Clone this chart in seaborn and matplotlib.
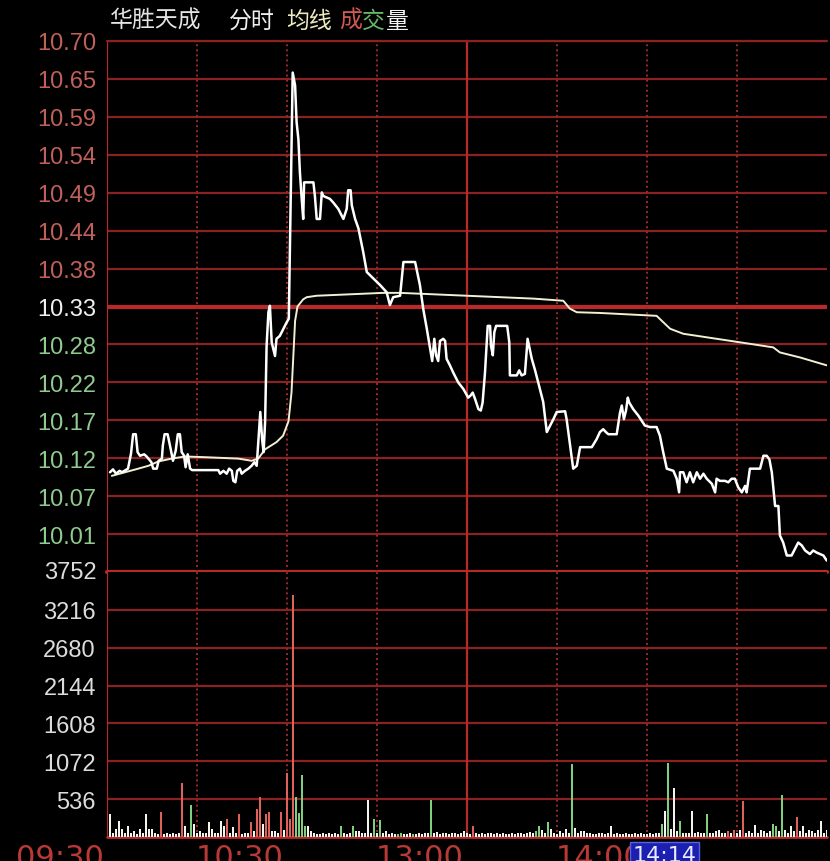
import matplotlib
matplotlib.use('Agg')
from matplotlib import pyplot as plt, transforms
import numpy as np
import seaborn as sns

# intraday price (minute from 09:30, price)
price_minutes = [1.0, 2.0, 3.0, 4.2, 5.0, 7.0, 8.0, 8.7, 9.6, 10.2, 11.0, 12.4, 13.2, 14.8, 15.4, 16.6, 17.2,
                 18.3, 18.6, 19.2, 20.2, 21.0, 22.0, 22.9, 23.6, 24.3, 24.9, 25.7, 26.2, 26.9, 27.7, 28.4,
                 37.1, 37.7, 38.8, 39.9, 40.7, 41.6, 42.1, 42.8, 43.4, 44.3, 44.9, 46.0, 47.1, 48.2, 49.1,
                 49.9, 50.5, 51.1, 51.7, 52.2, 52.7, 53.2, 53.8, 54.3, 54.9, 56.0, 56.5, 57.6, 59.9, 60.6,
                 61.9, 62.7, 63.2, 63.8, 64.3, 64.9, 65.4, 65.7, 68.8, 69.3, 69.9, 71.0, 71.6, 72.1, 74.3,
                 75.4, 77.1, 78.8, 79.9, 80.4, 81.2, 81.6, 82.7, 83.8, 85.4, 86.6, 88.8, 91.0, 93.2, 94.3,
                 95.4, 97.7, 98.8, 102.7, 104.3, 105.4, 106.6, 107.7, 108.4, 109.1, 109.7, 110.4, 111.0,
                 112.1, 112.7, 113.2, 114.3, 115.4, 117.1, 118.8, 120.4, 121.2, 121.9, 122.7, 123.8, 124.6,
                 125.2, 126.0, 126.6, 126.9, 127.7, 128.0, 128.6, 129.1, 129.7, 133.4, 134.1, 134.3, 136.6,
                 137.4, 138.2, 139.3, 139.7, 140.2, 140.8, 141.6, 142.7, 144.3, 145.4, 146.6, 147.7, 148.8,
                 149.9, 152.7, 153.2, 154.1, 155.4, 156.6, 157.7, 161.6, 163.2, 164.3, 165.4, 166.3, 167.1,
                 169.9, 171.0, 171.6, 172.3, 173.0, 173.6, 174.1, 175.4, 177.1, 179.3, 181.0, 183.2, 184.3,
                 185.4, 186.6, 188.8, 189.9, 190.7, 191.0, 192.1, 193.2, 194.3, 195.4, 196.6, 197.7, 198.8,
                 199.9, 201.6, 202.7, 203.2, 204.3, 206.0, 207.1, 208.2, 209.3, 210.4, 211.6, 212.7, 213.2,
                 214.3, 217.7, 218.8, 219.9, 220.8, 221.6, 222.7, 223.8, 224.3, 225.4, 226.6, 228.2, 229.3,
                 230.4, 231.6, 232.7, 234.3, 235.4, 236.6, 237.7, 238.8, 239.9]
price_values = [10.099, 10.103, 10.097, 10.101, 10.099, 10.104, 10.125, 10.152, 10.152, 10.127, 10.122, 10.124,
                10.121, 10.113, 10.104, 10.104, 10.115, 10.118, 10.136, 10.152, 10.152, 10.136, 10.115, 10.129,
                10.152, 10.152, 10.127, 10.122, 10.106, 10.124, 10.104, 10.102,
                10.102, 10.097, 10.101, 10.097, 10.104, 10.101, 10.087, 10.085, 10.101, 10.104, 10.097, 10.101,
                10.104, 10.108, 10.113,
                10.108, 10.145, 10.183, 10.145, 10.127, 10.169, 10.275, 10.322, 10.331, 10.280, 10.261, 10.285,
                10.289, 10.308, 10.313,
                10.656, 10.638, 10.587, 10.563, 10.517, 10.480, 10.452, 10.503, 10.503, 10.484, 10.452, 10.452,
                10.489, 10.484, 10.480, 10.475, 10.466, 10.452, 10.466, 10.492, 10.492, 10.471, 10.452, 10.439,
                10.406, 10.378, 10.369, 10.360, 10.350, 10.332, 10.343, 10.345, 10.392, 10.392, 10.360, 10.327,
                10.299, 10.271, 10.254, 10.285, 10.262, 10.254, 10.282, 10.285, 10.282, 10.257, 10.248, 10.238,
                10.224, 10.215, 10.203, 10.206, 10.210, 10.201, 10.187, 10.185, 10.196, 10.238, 10.280, 10.303,
                10.303, 10.275, 10.262, 10.294, 10.303, 10.303, 10.280, 10.234, 10.234, 10.241, 10.234, 10.236,
                10.257, 10.285, 10.273, 10.257, 10.241, 10.215, 10.197, 10.155, 10.164, 10.173, 10.183, 10.184,
                10.173, 10.145, 10.104, 10.108, 10.134, 10.134, 10.145, 10.155, 10.159, 10.155, 10.152, 10.152,
                10.182, 10.192, 10.173, 10.185, 10.203, 10.196, 10.187, 10.178, 10.164, 10.162, 10.162, 10.150,
                10.127, 10.104, 10.101, 10.090, 10.071, 10.099, 10.099, 10.085, 10.099, 10.085, 10.099, 10.090,
                10.097, 10.090, 10.083, 10.071, 10.090, 10.087, 10.087, 10.085, 10.090, 10.090, 10.078, 10.071,
                10.080, 10.071, 10.104, 10.104, 10.122, 10.122, 10.117, 10.099, 10.052, 10.052, 10.011, 10.001,
                9.983, 9.983, 9.992, 10.001, 9.997, 9.990, 9.985, 9.990, 9.987, 9.985, 9.983, 9.976]

# average price line
avg_minutes = [1.6, 6.0, 10.4, 13.8, 17.1, 21.5, 26.0, 32.7, 43.8, 48.2, 50.4, 52.7, 56.5, 58.7, 60.5, 61.5,
               62.1, 62.7, 63.5, 65.4, 66.6, 69.9, 81.0, 92.1, 97.7, 119.9, 142.1, 152.1, 154.3, 156.6, 164.3,
               183.2, 187.7, 192.1, 203.2, 214.3, 222.1, 224.3, 231.0, 239.9]
avg_values = [10.094, 10.099, 10.104, 10.108, 10.114, 10.118, 10.121, 10.120, 10.118, 10.115, 10.118, 10.131,
              10.141, 10.150, 10.170, 10.210, 10.260, 10.310, 10.330, 10.340, 10.343, 10.345, 10.347, 10.349,
              10.349, 10.345, 10.341, 10.338, 10.327, 10.322, 10.321, 10.317, 10.299, 10.292, 10.285, 10.278,
              10.273, 10.266, 10.259, 10.248]

# volume per minute (minute 1..240) and bar colour: r up, g down, w flat
volume_values = [
    320, 60, 110, 230, 120, 60, 160, 50, 90, 40, 110, 60, 320, 120, 110, 60, 40, 350, 40, 50,
    40, 50, 40, 60, 770, 150, 60, 460, 180, 60, 80, 50, 60, 210, 120, 50, 60, 230, 150, 250,
    60, 140, 60, 320, 40, 60, 50, 210, 80, 400, 560, 180, 330, 350, 80, 80, 60, 350, 100, 910,
    250, 3430, 570, 340, 880, 150, 160, 80, 50, 40, 40, 50, 40, 60, 40, 50, 40, 160, 60, 40,
    50, 160, 80, 90, 50, 60, 530, 60, 250, 50, 240, 50, 80, 40, 60, 40, 40, 50, 40, 40,
    50, 40, 40, 60, 40, 60, 50, 530, 60, 70, 40, 50, 60, 40, 50, 50, 40, 60, 90, 60,
    40, 160, 60, 40, 50, 40, 50, 60, 40, 50, 40, 50, 40, 40, 50, 40, 60, 50, 40, 60,
    70, 60, 80, 160, 100, 60, 210, 120, 60, 40, 80, 60, 120, 60, 1030, 130, 60, 80, 80, 60,
    60, 40, 40, 50, 60, 40, 50, 160, 40, 50, 40, 40, 50, 40, 40, 50, 40, 50, 40, 40,
    50, 40, 60, 50, 180, 370, 1050, 120, 690, 80, 230, 60, 50, 60, 370, 60, 70, 50, 60, 320,
    50, 60, 80, 100, 60, 50, 80, 60, 100, 60, 100, 510, 60, 80, 60, 170, 60, 100, 80, 60,
    80, 190, 150, 80, 600, 100, 60, 160, 80, 280, 80, 160, 60, 100, 80, 60, 100, 230, 60, 100]
volume_colors = ("wwwwwwwwwwwwwwwwwrww" "wwwwrwwgwwwwwwwwwwwr" "wwwrwwwrwrrwrrwwwrwr"
                 "rrggggwwwwwwwwwwwgww" "wgwwwwwwgwgwwwwwggww" "wgwwwwwgwwwwwwwwwwww"
                 "wrwwwwwwwwwwwwwwwwww" "wwggwwgwwwwwwwgwwwww" "wwwwwwwwwwwwwwwwwwww"
                 "wwwwgwgwwwgwwwwwwwwg" "wwwwwwrwrwwrwwwwwwww" "wggwgwwwwrwwwwwwwwww")
volume_minutes = np.arange(1, len(volume_values) + 1)

prev_close = 10.33
max_swing = 0.37
volume_step = 536
time_ticks = [0, 60, 120, 180]
time_labels = ["09:30", "10:30", "13:00", "14:00"]
cursor_label = "14:14"

sns.set_theme(style="dark", rc={"axes.facecolor": "black", "figure.facecolor": "black"})
plt.rcParams['font.family'] = ['Liberation Sans', 'Noto Sans CJK SC', 'DejaVu Sans']

W, H = 830, 862
fig = plt.figure(figsize=(W / 100, H / 100), dpi=100, facecolor='black')
ax_p = fig.add_axes([107 / W, (H - 573) / H, 720 / W, 531 / H])
ax_v = fig.add_axes([107 / W, (H - 838) / H, 720 / W, 265 / H])

grid_red = '#8a2222'
bright_red = '#b82a2a'
up_col, flat_col, down_col = '#c0605a', '#f0f0f0', '#8fca8f'

# price panel
step = max_swing / 7
price_ticks = [prev_close + k * step for k in range(7, -7, -1)]
ax_p.set_ylim(prev_close - max_swing, prev_close + max_swing)
ax_p.set_yticks(price_ticks)
ax_p.set_yticklabels(['%.2f' % v for v in price_ticks])
for lab, v in zip(ax_p.get_yticklabels(), price_ticks):
    if abs(v - prev_close) < 1e-6:
        lab.set_color(flat_col)
    elif v > prev_close:
        lab.set_color(up_col)
    else:
        lab.set_color(down_col)
for v in price_ticks:
    if abs(v - prev_close) < 1e-6:
        ax_p.axhline(v, color=bright_red, lw=3.0, zorder=1)
    else:
        ax_p.axhline(v, color=grid_red, lw=1.6, zorder=1)
ax_p.axhline(prev_close - max_swing, color=bright_red, lw=3.0, zorder=1, clip_on=False)

# volume panel
vol_ticks = [volume_step * k for k in range(0, 8)]
ax_v.set_ylim(0, vol_ticks[-1])
ax_v.set_yticks(vol_ticks[1:-1])
ax_v.set_yticklabels([str(v) for v in vol_ticks[1:-1]], color='#dcdcdc')
for v in vol_ticks[1:-1]:
    ax_v.axhline(v, color=grid_red, lw=1.6, zorder=1)
ax_v.axhline(0, color=bright_red, lw=2.0, zorder=1, clip_on=False)
fig.text(97 / W, (H - 573) / H, str(vol_ticks[-1]), color='#dcdcdc', fontsize=17,
         ha='right', va='center')

palette = {'r': '#e0605a', 'g': '#7fcf7f', 'w': '#f4f4ec'}
ax_v.bar(volume_minutes, volume_values, width=0.55, color=[palette[c] for c in volume_colors],
         linewidth=0, zorder=3)

for ax in (ax_p, ax_v):
    ax.set_xlim(0, 240)
    ax.set_xticks([])
    ax.set_facecolor('black')
    for s in ax.spines.values():
        s.set_visible(False)
    ax.tick_params(axis='y', length=0, pad=8, labelsize=17)
    ax.grid(False)
    for m in range(0, 241, 30):
        if m in (0, 120):
            ax.axvline(m, color=bright_red, lw=1.6, zorder=1)
        elif m < 240:
            ax.axvline(m, color='#9a2a2a', lw=1.4, ls=(0, (1, 1.6)), zorder=1)
    ax.set_xlabel('')
    ax.set_ylabel('')
ax_p.axhline(prev_close + max_swing, color=grid_red, lw=1.6, zorder=1, clip_on=False)

sns.lineplot(x=avg_minutes, y=avg_values, ax=ax_p, color='#f2f0d2', lw=1.4, estimator=None, zorder=4)
sns.lineplot(x=price_minutes, y=price_values, ax=ax_p, color='white', lw=1.8, estimator=None, zorder=5)

# time axis labels (cut by the bottom edge like the screenshot)
trans = transforms.blended_transform_factory(ax_v.transData, fig.transFigure)
for t, lab in zip(time_ticks, time_labels):
    ax_v.text(t - 1.2, (H - 844) / H, lab, transform=trans, ha='right', va='top', color='#b83a36',
              fontsize=22, family='DejaVu Sans', clip_on=False)
ax_v.text(196.5, (H - 846) / H, cursor_label, transform=trans, ha='right', va='top', color='#e8ecff',
          fontsize=16, family='DejaVu Sans', clip_on=False,
          bbox=dict(boxstyle='square,pad=0.12', fc='#1c20b0', ec='#5a60e0', lw=1))

# header
head = [("华胜天成", 110, '#e4e4e4'), ("分时", 229, '#f0f0f0'), ("均线", 286, '#ecebc0'),
        ("成", 339, '#d05a50'), ("交", 362, '#66b866'), ("量", 386, '#f4f4f4')]
for txt, x, c in head:
    fig.text(x / W, (H - 21) / H, txt, color=c, fontsize=16.5, ha='left', va='center',
             family=['Noto Sans CJK SC', 'DejaVu Sans'])

fig.savefig('out.png', dpi=100, facecolor='black')
